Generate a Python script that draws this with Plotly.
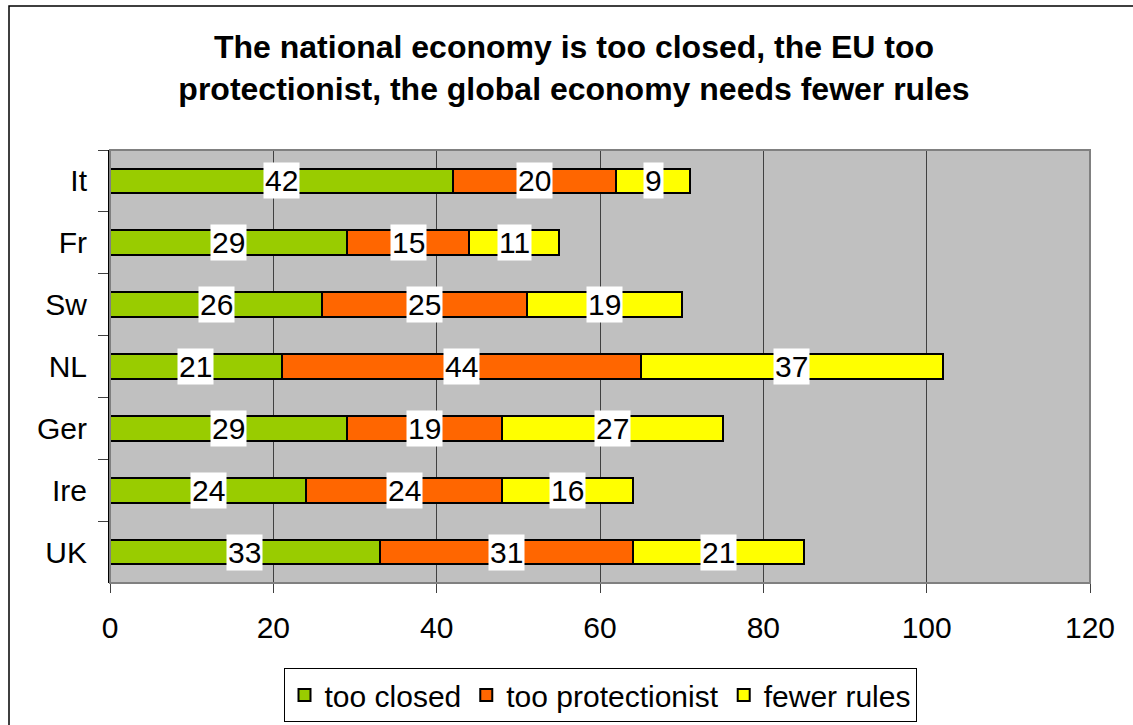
import plotly.graph_objects as go

# Survey results by country (percent)
countries = ["It", "Fr", "Sw", "NL", "Ger", "Ire", "UK"]
too_closed = [42, 29, 26, 21, 29, 24, 33]
too_protectionist = [20, 15, 25, 44, 19, 24, 31]
fewer_rules = [9, 11, 19, 37, 27, 16, 21]
x_ticks = [0, 20, 40, 60, 80, 100, 120]

series = [
    ("too closed", too_closed, "#99CC00"),
    ("too protectionist", too_protectionist, "#FF6600"),
    ("fewer rules", fewer_rules, "#FFFF00"),
]

FONT = "Liberation Sans, Arial, sans-serif"
W, H = 1133, 725
L, R, T, B = 110, 43, 150, 142

fig = go.Figure()
for name, vals, color in series:
    fig.add_trace(go.Bar(
        y=countries, x=vals, name=name, orientation="h",
        marker=dict(color=color, line=dict(color="black", width=2)),
        width=0.4,
    ))

# value labels on white boxes at the middle of each segment
annotations = []
for i, c in enumerate(countries):
    base = 0
    for name, vals, color in series:
        v = vals[i]
        annotations.append(dict(
            x=base + v / 2, y=c, xref="x", yref="y", text=str(v),
            showarrow=False, bgcolor="white", borderpad=1,
            font=dict(family=FONT, size=30, color="black"),
        ))
        base += v

pw = W - L - R
ph = H - T - B
shapes = [
    # plot area frame (gray top/right/bottom)
    dict(type="rect", xref="paper", yref="paper", x0=0, x1=1, y0=0, y1=1,
         line=dict(color="#808080", width=2), layer="above"),
    # outer chart border
    dict(type="rect", xref="paper", yref="paper",
         x0=(9 - L) / pw, x1=(W + 20 - L) / pw,
         y0=-(H + 20 - T - ph) / ph, y1=1 + (T - 6) / ph,
         line=dict(color="black", width=1.5)),
]

fig.update_layout(
    width=W, height=H,
    margin=dict(l=L, r=R, t=T, b=B, pad=0, autoexpand=False),
    paper_bgcolor="white", plot_bgcolor="#C0C0C0",
    barmode="stack", bargap=0.6,
    font=dict(family=FONT, size=30, color="black"),
    title=dict(
        text="<b>The national economy is too closed, the EU too<br>protectionist, the global economy needs fewer rules</b>",
        x=(574 / W), xanchor="center", y=1 - 58 / H, yanchor="middle",
        font=dict(family=FONT, size=32, color="black"),
    ),
    xaxis=dict(
        range=[0, 120], tickvals=x_ticks, showgrid=True, gridcolor="#404040",
        gridwidth=1, zeroline=False, showline=False,
        ticks="outside", ticklen=9, tickcolor="#404040", tickwidth=1,
        ticklabelstandoff=9, tickfont=dict(size=30),
    ),
    yaxis=dict(
        categoryorder="array", categoryarray=countries, autorange="reversed",
        showgrid=False, zeroline=False, showline=True, linecolor="black",
        linewidth=2, ticks="outside", ticklen=10, tickcolor="#404040",
        tickson="boundaries", ticklabelstandoff=15, tickfont=dict(size=30),
    ),
    legend=dict(
        orientation="h", x=0.5, xanchor="center",
        y=-(722 - T - ph) / ph, yanchor="bottom",
        bordercolor="black", borderwidth=1, bgcolor="white",
        font=dict(family=FONT, size=30), traceorder="normal",
        itemwidth=30,
    ),
    annotations=annotations,
    shapes=shapes,
)

fig.write_html("out.html")
